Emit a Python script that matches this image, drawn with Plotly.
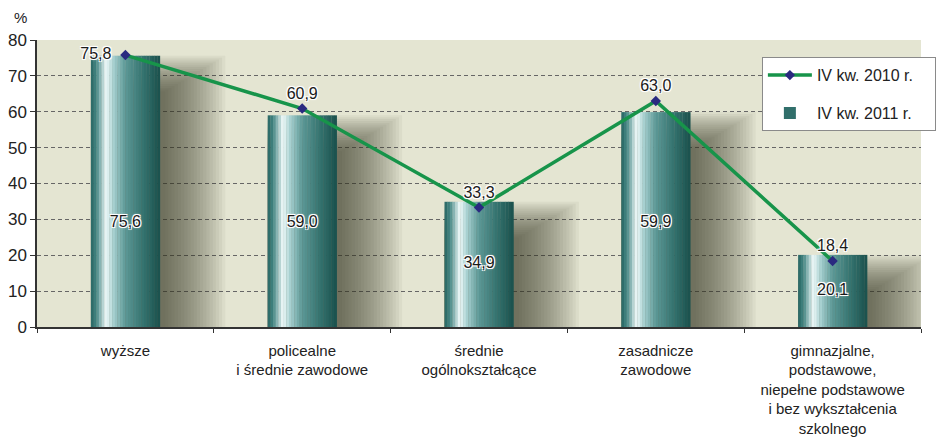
import plotly.graph_objects as go

categories = ["wyższe", "policealne<br>i średnie zawodowe", "średnie<br>ogólnokształcące",
              "zasadnicze<br>zawodowe",
              "gimnazjalne,<br>podstawowe,<br>niepełne podstawowe<br>i bez wykształcenia<br>szkolnego"]
values_2011 = [75.6, 59.0, 34.9, 59.9, 20.1]
values_2010 = [75.8, 60.9, 33.3, 63.0, 18.4]
labels_2011 = ["75,6", "59,0", "34,9", "59,9", "20,1"]
labels_2010 = ["75,8", "60,9", "33,3", "63,0", "18,4"]
y_ticks = [0, 10, 20, 30, 40, 50, 60, 70, 80]

FONT = "Liberation Sans, Arial, sans-serif"
BAR_W = 0.39
N_STRIPS = 26
stops = [(0.0, (38, 100, 97)), (0.08, (70, 136, 133)), (0.22, (240, 250, 250)),
         (0.32, (170, 210, 210)), (0.50, (92, 152, 150)), (0.78, (50, 112, 108)),
         (1.0, (26, 80, 76))]


def grad(t):
    for (a, ca), (b, cb) in zip(stops[:-1], stops[1:]):
        if a <= t <= b:
            f = (t - a) / (b - a)
            c = [round(ca[i] + (cb[i] - ca[i]) * f) for i in range(3)]
            return "rgb(%d,%d,%d)" % tuple(c)
    return "rgb(%d,%d,%d)" % stops[-1][1]


fig = go.Figure()

# soft blurred shadow to the right of the bars (stacked translucent layers)
N_SH = 20
for k in range(N_SH):
    f = k / (N_SH - 1)
    right_ext = 0.20 + 0.17 * (1 - 2 * f)
    w = BAR_W + right_ext
    fig.add_trace(go.Bar(
        x=categories, y=[max(v - 5 + 5 * (1 - 2 * f), 0) for v in values_2011],
        width=[w] * 5, offset=[-BAR_W / 2] * 5,
        marker=dict(color="rgba(60,60,45,0.05)", line=dict(width=0)),
        showlegend=False, hoverinfo="skip"))

# gradient bars built from narrow strips
sw = BAR_W / N_STRIPS
for i in range(N_STRIPS):
    t = (i + 0.5) / N_STRIPS
    fig.add_trace(go.Bar(
        x=categories, y=values_2011,
        width=[sw * 1.1] * 5, offset=[-BAR_W / 2 + i * sw] * 5,
        marker=dict(color=grad(t), line=dict(width=0)),
        name="IV kw. 2011 r.\u2003" if i == 20 else None, legendrank=2,
        legendgroup="b", showlegend=(i == 20), hoverinfo="skip"))

halo = "-1px -1px 0 #fff, 1px -1px 0 #fff, -1px 1px 0 #fff, 1px 1px 0 #fff, 0 0 3px #fff"

# labels inside bars
fig.add_trace(go.Scatter(
    x=categories, y=[min(v / 2, 29) for v in values_2011], mode="text",
    text=labels_2011, textposition="middle center",
    textfont=dict(family=FONT, size=16, color="#1a1a1a", shadow=halo),
    showlegend=False, hoverinfo="skip"))

# 2010 line
fig.add_trace(go.Scatter(
    x=categories, y=values_2010, mode="lines+markers+text",
    name="IV kw. 2010 r.\u2003", legendgroup="a", legendrank=1,
    line=dict(color="#17944a", width=3.5),
    marker=dict(symbol="diamond", size=8, color="#2a2a80"),
    text=labels_2010,
    texttemplate=["%{text}\u2002", "%{text}", "%{text}", "%{text}", "%{text}"],
    textposition=["middle left", "top center", "top center", "top center", "top center"],
    textfont=dict(family=FONT, size=16, color="#1a1a1a", shadow=halo)))

fig.update_layout(
    width=938, height=433,
    margin=dict(l=29, r=10, t=32, b=114),
    barmode="overlay",
    paper_bgcolor="white",
    plot_bgcolor="#e4e5d2",
    font=dict(family=FONT, size=15, color="#222"),
    legend=dict(x=0.82, y=0.94, xanchor="left", yanchor="top",
                bgcolor="white", bordercolor="#8a8a8a", borderwidth=1,
                font=dict(family=FONT, size=16, color="#222"),
                traceorder="grouped", tracegroupgap=14, itemwidth=44),
    xaxis=dict(type="category", range=[-0.5, 4.5], showgrid=False, automargin=False,
               showline=True, linecolor="#333", linewidth=1.5,
               ticks="outside", tickson="boundaries", ticklen=4, tickcolor="#333",
               ticklabelstandoff=9,
               tickfont=dict(family=FONT, size=15, color="#222")),
    yaxis=dict(range=[0, 80], tickvals=y_ticks, showgrid=True, automargin=False,
               gridcolor="#666", griddash="4px,3px", gridwidth=1,
               showline=True, linecolor="#333", linewidth=1.5,
               ticks="outside", ticklen=5, tickcolor="#333", zeroline=False,
               tickfont=dict(family=FONT, size=17, color="#222")),
    annotations=[dict(text="%", x=0, xref="paper", xanchor="center", xshift=-17,
                      y=1, yref="paper", yanchor="bottom", yshift=12, showarrow=False,
                      font=dict(family=FONT, size=15, color="#222"))],
)

fig.write_html("out.html", config={"displayModeBar": False})
